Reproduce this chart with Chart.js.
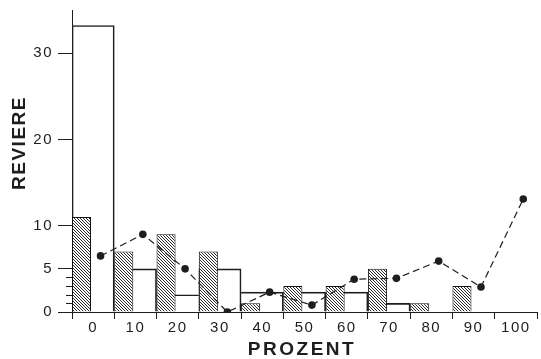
<!DOCTYPE html>
<html>
<head>
<meta charset="utf-8">
<script src="https://cdn.jsdelivr.net/npm/chart.js@4"></script>
<style>
  html, body { margin: 0; padding: 0; background: #fff; }
  canvas { display: block; }
</style>
</head>
<body>
<canvas id="chart" width="541" height="359"></canvas>
<script>
// values
const categories = ["0", "10", "20", "30", "40", "50", "60", "70", "80", "90", "100"];
const hatchedValues = [11, 7, 9, 7, 1, 3, 3, 5, 1, 3, 0];
const openValues = [33.2, 5, 2, 5, 2.3, 2.3, 2.3, 1, 0, 0, 0];
const dotValues = [6.5, 9, 5, 0, 2.3, 0.8, 3.8, 3.9, 5.9, 2.9, 13.1];
const yTickValues = [0, 5, 10, 20, 30];
const yMinorTicks = [1, 2, 3, 4];

const ink = "#1e1e1e";
const font = '"Liberation Sans", Arial, sans-serif';

// diagonal hatch fill, one crisp pixel line per tile
function makeHatch() {
  const s = 3;
  const c = document.createElement("canvas");
  c.width = s;
  c.height = s;
  const g = c.getContext("2d");
  g.fillStyle = "#fff";
  g.fillRect(0, 0, s, s);
  g.fillStyle = "#2a2a2a";
  for (let k = 0; k < s; k++) g.fillRect(k, k, 1, 1);
  return document.getElementById("chart").getContext("2d").createPattern(c, "repeat");
}

// shifts (in bins) of the hatched bars and the dots relative to bin centre
const hatchShift = -0.275;
const dotShift = 0.175;
const n = categories.length;

// only the taller bar draws a shared edge, so the outline stays single
function openBorder(ctx) {
  const i = ctx.dataIndex;
  const v = openValues[i];
  const prev = i > 0 ? openValues[i - 1] : 0;
  const next = i < n - 1 ? openValues[i + 1] : 0;
  return {
    top: 1,
    bottom: 0,
    left: prev >= v && i > 0 ? 0 : 1,
    right: next > v ? 0 : 1
  };
}

const letterSpace = {
  id: "letterSpace",
  beforeDraw(chart) {
    chart.ctx.letterSpacing = "1.5px";
  }
};

const minorTicks = {
  id: "minorTicks",
  afterDraw(chart) {
    const ctx = chart.ctx;
    const y = chart.scales.y;
    const left = chart.chartArea.left;
    ctx.save();
    ctx.strokeStyle = ink;
    ctx.lineWidth = 1;
    ctx.beginPath();
    yMinorTicks.forEach(v => {
      const py = Math.round(y.getPixelForValue(v)) + 0.5;
      ctx.moveTo(left - 6, py);
      ctx.lineTo(left, py);
    });
    ctx.stroke();
    ctx.restore();
  }
};

const axisTitles = {
  id: "axisTitles",
  afterDraw(chart) {
    const ctx = chart.ctx;
    ctx.save();
    ctx.fillStyle = ink;
    ctx.textAlign = "center";
    ctx.textBaseline = "middle";
    ctx.font = "bold 19px " + font;
    ctx.letterSpacing = "1.5px";
    ctx.save();
    ctx.translate(20, 143);
    ctx.rotate(-Math.PI / 2);
    ctx.fillText("REVIERE", 0, 0);
    ctx.restore();
    ctx.letterSpacing = "2.5px";
    ctx.fillText("PROZENT", 302, 350);
    ctx.restore();
  }
};

new Chart(document.getElementById("chart"), {
  type: "bar",
  data: {
    labels: categories,
    datasets: [
      {
        type: "line",
        label: "Punkte",
        xAxisID: "xl",
        data: dotValues.map((v, i) => ({ x: i, y: v })),
        borderColor: ink,
        borderWidth: 1.2,
        borderDash: [7, 4],
        pointRadius: 3.8,
        pointBackgroundColor: ink,
        pointBorderWidth: 0,
        tension: 0,
        order: 0
      },
      {
        label: "schraffiert",
        xAxisID: "xh",
        data: hatchedValues.map((v, i) => ({ x: i, y: v })),
        grouped: false,
        backgroundColor: makeHatch(),
        borderColor: "#111",
        borderWidth: 1,
        borderSkipped: "start",
        categoryPercentage: 1,
        barPercentage: 0.45,
        order: 1
      },
      {
        label: "offen",
        data: openValues,
        grouped: false,
        backgroundColor: "rgba(255,255,255,0)",
        borderColor: ink,
        borderWidth: openBorder,
        borderSkipped: false,
        categoryPercentage: 1,
        barPercentage: 1,
        order: 2
      }
    ]
  },
  options: {
    responsive: false,
    devicePixelRatio: 1,
    animation: false,
    layout: { padding: { top: 10, right: 0, left: 0, bottom: 0 } },
    plugins: {
      legend: { display: false },
      tooltip: { enabled: false }
    },
    scales: {
      x: {
        type: "category",
        offset: true,
        afterFit: s => { s.height = 47; s.paddingLeft = 0; s.paddingRight = 0; },
        grid: {
          offset: true,
          drawOnChartArea: false,
          drawTicks: true,
          tickLength: 7,
          color: ink
        },
        border: { display: true, color: ink, width: 1 },
        ticks: {
          color: ink,
          font: { family: font, size: 15 },
          padding: 0,
          maxRotation: 0
        }
      },
      xh: {
        type: "linear",
        display: false,
        offset: false,
        min: -0.5 - hatchShift,
        max: n - 0.5 - hatchShift
      },
      xl: {
        type: "linear",
        display: false,
        offset: false,
        min: -0.5 - dotShift,
        max: n - 0.5 - dotShift
      },
      y: {
        min: 0,
        max: 35,
        afterFit: s => { s.width = 72; s.paddingTop = 0; s.paddingBottom = 0; },
        afterBuildTicks: s => { s.ticks = yTickValues.map(v => ({ value: v })); },
        grid: {
          drawOnChartArea: false,
          drawTicks: true,
          tickLength: 14,
          color: ink
        },
        border: { display: true, color: ink, width: 1 },
        ticks: {
          color: ink,
          font: { family: font, size: 15 },
          padding: 5
        }
      }
    }
  },
  plugins: [letterSpace, minorTicks, axisTitles]
});
</script>
</body>
</html>
